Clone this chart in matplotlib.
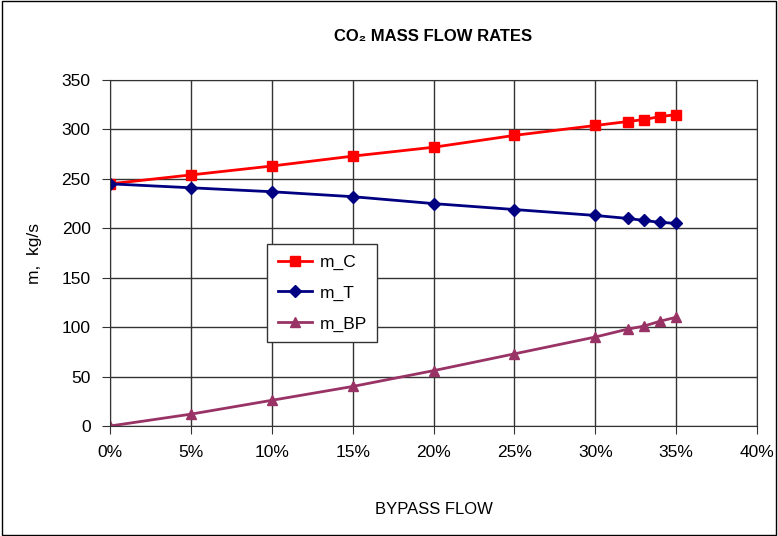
import matplotlib
matplotlib.use('Agg')
import matplotlib.pyplot as plt
from matplotlib.ticker import MultipleLocator, FuncFormatter
from matplotlib.patches import Rectangle

plt.rcParams['font.family'] = ['Liberation Sans', 'DejaVu Sans']

# 데이터
bypass = [0, 5, 10, 15, 20, 25, 30, 32, 33, 34, 35]
m_c = [245, 254, 263, 273, 282, 294, 304, 308, 310, 313, 315]
m_t = [245, 241, 237, 232, 225, 219, 213, 210, 208, 206, 205]
m_bp = [0, 12, 26, 40, 56, 73, 90, 98, 101, 106, 110]

fig = plt.figure(figsize=(7.78, 5.36), dpi=100)
ax = fig.add_axes([0.1414, 0.2052, 0.8316, 0.6455])

ax.plot(bypass, m_c, color='#FF0000', marker='s', markersize=7, lw=2, label='m_C')
ax.plot(bypass, m_t, color='#000080', marker='D', markersize=6, lw=2, label='m_T')
ax.plot(bypass, m_bp, color='#993366', marker='^', markersize=7, lw=2, label='m_BP')

ax.set_xlim(0, 40)
ax.set_ylim(0, 350)
ax.xaxis.set_major_locator(MultipleLocator(5))
ax.yaxis.set_major_locator(MultipleLocator(50))
ax.xaxis.set_major_formatter(FuncFormatter(lambda v, p: '%d%%' % v))
ax.grid(True, color='#333333', lw=1)
ax.set_axisbelow(True)
for s in ax.spines.values():
    s.set_color('#333333')
ax.tick_params(direction='out', length=6, labelsize=12.5, color='#333333', pad=8)

ax.set_title('CO\u2082 MASS FLOW RATES', fontsize=12, fontweight='bold', pad=28)
ax.set_ylabel('m,  kg/s', fontsize=12.5, labelpad=14)
ax.set_xlabel('BYPASS FLOW', fontsize=12, labelpad=30)

leg = ax.legend(loc='upper left', bbox_to_anchor=(0.243, 0.526), fontsize=12.5,
                fancybox=False, framealpha=1, edgecolor='#333333',
                handlelength=2.0, handletextpad=0.4, borderpad=0.6,
                labelspacing=0.9, borderaxespad=0)
leg.get_frame().set_linewidth(1)

# 바깥 테두리
fig.patches.append(Rectangle((0.002, 0.002), 0.996, 0.996, transform=fig.transFigure,
                             fill=False, edgecolor='black', lw=1))

fig.savefig('out.png', dpi=100, facecolor='white')
